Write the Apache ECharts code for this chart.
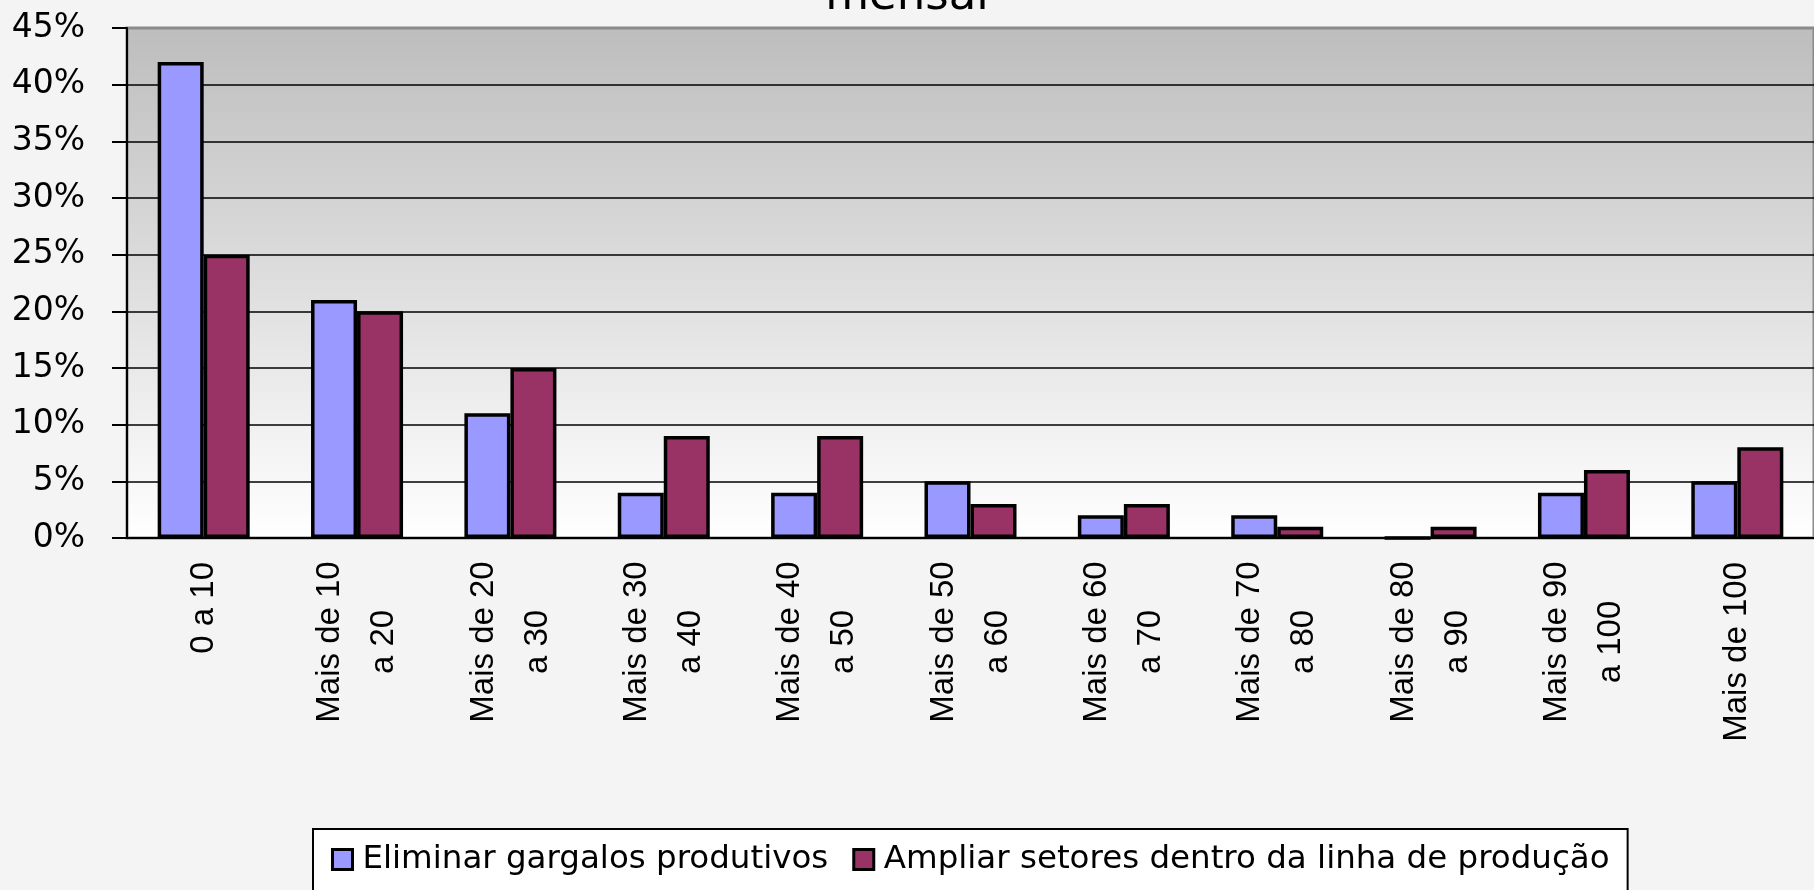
<!DOCTYPE html>
<html>
<head>
<meta charset="utf-8">
<script src="https://cdn.jsdelivr.net/npm/echarts@6/dist/echarts.min.js"></script>
<style>
  html, body { margin: 0; padding: 0; background: #f4f4f4; }
  #chart { width: 1814px; height: 890px; }
</style>
</head>
<body>
<div id="chart"></div>
<script>
// faixas de valores (eixo x)
const categories = [
  '0 a 10',
  'Mais de 10\na 20',
  'Mais de 20\na 30',
  'Mais de 30\na 40',
  'Mais de 40\na 50',
  'Mais de 50\na 60',
  'Mais de 60\na 70',
  'Mais de 70\na 80',
  'Mais de 80\na 90',
  'Mais de 90\na 100',
  'Mais de 100'
];

const seriesNames = [
  'Eliminar gargalos produtivos',
  'Ampliar setores dentro da linha de produção'
];

// percentuais
const eliminarData = [42, 21, 11, 4, 4, 5, 2, 2, 0, 4, 5];
const ampliarData = [25, 20, 15, 9, 9, 3, 3, 1, 1, 6, 8];

const yTicks = [0, 5, 10, 15, 20, 25, 30, 35, 40, 45];

const chart = echarts.init(document.getElementById('chart'), null, { renderer: 'canvas' });

const barStyle = (color) => ({
  color: color,
  borderColor: '#000',
  borderWidth: 3.5
});

chart.setOption({
  backgroundColor: '#f4f4f4',
  animation: false,
  graphic: [
    {
      type: 'text',
      x: 907,
      y: -3,
      style: {
        text: 'mensal',
        fontFamily: 'DejaVu Sans',
        fontSize: 45,
        fill: '#000',
        textAlign: 'center',
        textVerticalAlign: 'middle'
      }
    }
  ],
  legend: {
    data: seriesNames,
    left: 313,
    top: 829,
    padding: [14, 18, 30, 18],
    itemGap: 24,
    itemWidth: 20,
    itemHeight: 20,
    icon: 'rect',
    itemStyle: { borderColor: '#000', borderWidth: 3 },
    backgroundColor: '#fff',
    borderColor: '#000',
    borderWidth: 2,
    textStyle: {
      fontFamily: 'DejaVu Sans',
      fontSize: 32.5,
      color: '#000',
      padding: [0, 0, 0, 5]
    }
  },
  grid: {
    left: 127,
    right: -4,
    top: 28,
    bottom: 352,
    show: true,
    backgroundColor: new echarts.graphic.LinearGradient(0, 0, 0, 1, [
      { offset: 0, color: '#bdbdbd' },
      { offset: 1, color: '#ffffff' }
    ]),
    borderColor: '#8a8a8a',
    borderWidth: 3
  },
  xAxis: {
    type: 'category',
    data: categories,
    axisLine: { lineStyle: { color: '#000', width: 2 } },
    axisTick: { length: 11, lineStyle: { color: '#000', width: 2 } },
    axisLabel: {
      rotate: 90,
      margin: 24,
      interval: 0,
      color: '#000',
      formatter: (v) => v.indexOf('\n') >= 0
        ? v.split('\n').map(s => '{w|' + s + '}').join('\n')
        : '{s|' + v + '}',
      rich: {
        w: {
          width: 160,
          align: 'center',
          lineHeight: 54,
          fontFamily: 'Liberation Sans',
          fontSize: 33,
          color: '#000'
        },
        s: {
          lineHeight: 54,
          fontFamily: 'Liberation Sans',
          fontSize: 33,
          color: '#000'
        }
      }
    }
  },
  yAxis: {
    type: 'value',
    min: yTicks[0],
    max: yTicks[yTicks.length - 1],
    interval: 5,
    axisLine: { show: true, lineStyle: { color: '#000', width: 2 } },
    axisTick: { show: true, length: 15, lineStyle: { color: '#000', width: 2 } },
    axisLabel: {
      margin: 42,
      formatter: '{value}%',
      fontFamily: 'DejaVu Sans',
      fontSize: 33,
      color: '#000'
    },
    splitLine: {
      lineStyle: {
        color: ['#000', '#000', '#000', '#000', '#000', '#000', '#000', '#000', '#000', 'transparent'],
        width: 1.5
      }
    }
  },
  series: [
    {
      name: seriesNames[0],
      type: 'bar',
      data: eliminarData,
      barGap: '0%',
      barCategoryGap: '40%',
      itemStyle: barStyle('#9999ff')
    },
    {
      name: seriesNames[1],
      type: 'bar',
      data: ampliarData,
      barGap: '0%',
      barCategoryGap: '40%',
      itemStyle: barStyle('#993366')
    }
  ]
});
</script>
</body>
</html>
